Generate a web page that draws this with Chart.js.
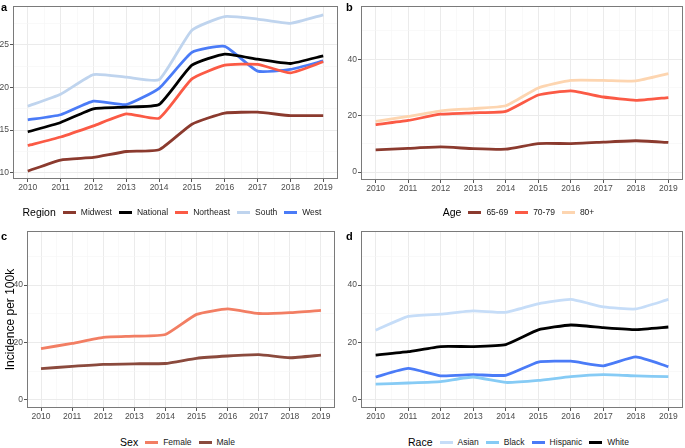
<!DOCTYPE html>
<html>
<head>
<meta charset="utf-8">
<title>Incidence per 100k, 2010-2019</title>
<script src="https://cdn.jsdelivr.net/npm/chart.js@4.4.0/dist/chart.umd.min.js"></script>
<style>
  body { margin: 0; background: #fff; font-family: "Liberation Sans", Arial, sans-serif; }
  #wrap { position: relative; width: 685px; height: 448px; overflow: hidden; }
  canvas { position: absolute; }
  .tag { position: absolute; font-weight: bold; font-size: 11px; line-height: 11px; color: #000; }
  .legend { position: absolute; height: 14px; display: flex; align-items: center; justify-content: center;
    font-size: 8.5px; color: #1a1a1a; white-space: nowrap; }
  .legend .ttl { font-size: 10.5px; color: #000; margin-right: 7px; }
  .legend .key { width: 13px; height: 3px; margin-right: 5px; }
  .legend .lab { margin-right: 7px; }
</style>
</head>
<body>
<div id="wrap">
  <canvas id="chartA" width="340" height="200" style="left:0;top:0"></canvas>
  <canvas id="chartB" width="345" height="200" style="left:340px;top:0"></canvas>
  <canvas id="chartC" width="340" height="204" style="left:0;top:225px"></canvas>
  <canvas id="chartD" width="345" height="204" style="left:340px;top:225px"></canvas>

  <div class="tag" style="left:1px;top:2px">a</div>
  <div class="tag" style="left:346px;top:2px">b</div>
  <div class="tag" style="left:1px;top:231px">c</div>
  <div class="tag" style="left:346px;top:231px">d</div>

  <div class="legend" id="legendA" style="left:13px;width:325px;top:205px"></div>
  <div class="legend" id="legendB" style="left:361px;width:322px;top:205px"></div>
  <div class="legend" id="legendC" style="left:27px;width:308px;top:435px"></div>
  <div class="legend" id="legendD" style="left:361px;width:322px;top:435px"></div>
</div>

<script>
'use strict';

// *********** DATA ***********
let years = [2010, 2011, 2012, 2013, 2014, 2015, 2016, 2017, 2018, 2019];

// panel a - region
let regionNames = ['Midwest', 'National', 'Northeast', 'South', 'West'];
let midwest = [10.2, 11.5, 11.8, 12.5, 12.7, 15.7, 17.0, 17.1, 16.7, 16.7];
let national = [14.8, 15.9, 17.5, 17.7, 18.0, 22.6, 23.9, 23.3, 22.8, 23.7];
let northeast = [13.2, 14.2, 15.5, 16.9, 16.4, 21.0, 22.6, 22.7, 21.7, 23.0];
let south = [17.8, 19.2, 21.5, 21.2, 20.9, 26.7, 28.3, 28.0, 27.5, 28.5];
let west = [16.2, 16.8, 18.4, 18.0, 19.9, 24.1, 24.8, 21.9, 22.1, 23.1];

// panel b - age
let ageNames = ['65-69', '70-79', '80+'];
let age6569 = [7.9, 8.4, 8.9, 8.3, 8.1, 10.1, 10.1, 10.6, 11.1, 10.5];
let age7079 = [16.8, 18.3, 20.5, 21.0, 21.5, 27.3, 28.8, 26.6, 25.4, 26.4];
let age80 = [18.0, 19.7, 21.7, 22.5, 23.5, 29.8, 32.5, 32.5, 32.3, 34.9];

// panel c - sex
let sexNames = ['Female', 'Male'];
let female = [17.9, 19.7, 21.8, 22.2, 22.8, 29.8, 31.7, 30.1, 30.4, 31.2];
let male = [10.9, 11.7, 12.4, 12.6, 12.7, 14.5, 15.3, 15.8, 14.7, 15.6];

// panel d - race
let raceNames = ['Asian', 'Black', 'Hispanic', 'White'];
let asian = [24.3, 29.1, 29.9, 31.0, 30.5, 33.5, 35.0, 32.4, 31.7, 35.0];
let black = [5.5, 5.9, 6.4, 8.0, 6.1, 6.8, 8.1, 8.8, 8.4, 8.1];
let hispanic = [8.0, 11.0, 8.4, 8.8, 8.6, 13.2, 13.5, 11.9, 15.0, 11.6];
let white = [15.6, 16.8, 18.6, 18.6, 19.3, 24.4, 26.1, 25.2, 24.5, 25.4];

// tick labels
let regionTicks = [10, 15, 20, 25];
let groupTicks = [0, 20, 40];

// ********* COLOURS *******************
let regionColors = ['#8b3a2e', '#000000', '#fb5a45', '#bfd4ee', '#4a7bf7'];
let ageColors = ['#8b3a2e', '#fb5a45', '#fdd5b0'];
let sexColors = ['#f27e63', '#8b4a3d'];
let raceColors = ['#c6ddf8', '#86cbf5', '#4a7bf7', '#000000'];

Chart.defaults.font.family = '"Liberation Sans", Arial, sans-serif';
Chart.defaults.animation = false;

// ********** HELPER FUNCTIONS *************

// grey box round the panel, drawn over the lines like ggplot does
let panelBorder = {
  id: 'panelBorder',
  afterDatasetsDraw(chart) {
    let a = chart.chartArea;
    let c = chart.ctx;
    c.save();
    c.strokeStyle = '#7a7a7a';
    c.lineWidth = 1;
    c.strokeRect(Math.round(a.left) + 0.5, Math.round(a.top) + 0.5,
      Math.round(a.right - a.left) - 1, Math.round(a.bottom - a.top) - 1);
    c.restore();
  }
};

function withMinors(majors, lo, hi) {
  let out = [];
  let step = majors[1] - majors[0];
  for (let v = majors[0] - step / 2; v <= majors[majors.length - 1] + step; v += step / 2) {
    if (v >= lo && v <= hi) out.push(v);
  }
  return out;
}

function isMajor(v, majors) {
  return majors.some(m => Math.abs(m - v) < 1e-6);
}

function makeDatasets(names, seriesList, colors) {
  let sets = [];
  for (let i = 0; i < names.length; i++) {
    sets.push({
      label: names[i],
      data: years.map((y, j) => ({ x: y, y: seriesList[i][j] })),
      borderColor: colors[i],
      backgroundColor: colors[i],
      borderWidth: 2.8,
      pointRadius: 0,
      tension: 0.15,
      borderJoinStyle: 'round'
    });
  }
  return sets;
}

function renderLegend(id, title, names, colors) {
  let box = document.getElementById(id);
  let t = document.createElement('span');
  t.className = 'ttl';
  t.textContent = title;
  box.appendChild(t);
  for (let i = 0; i < names.length; i++) {
    let k = document.createElement('span');
    k.className = 'key';
    k.style.background = colors[i];
    box.appendChild(k);
    let l = document.createElement('span');
    l.className = 'lab';
    l.textContent = names[i];
    box.appendChild(l);
  }
}

function renderPanel(canvasId, datasets, opts) {
  let xMajors = years;
  let xMin = 2009.55;
  let xMax = 2019.45;
  let yMajors = opts.yTicks;

  let chartObj = {
    type: 'line',
    data: { datasets: datasets },
    options: {
      responsive: false,
      layout: { padding: opts.padding },
      plugins: { legend: { display: false }, tooltip: { enabled: false } },
      scales: {
        x: {
          type: 'linear',
          min: xMin,
          max: xMax,
          afterBuildTicks: s => { s.ticks = withMinors(xMajors, xMin, xMax).map(v => ({ value: v })); },
          afterFit: s => { s.height = opts.xHeight; },
          border: { display: false },
          grid: {
            color: c => isMajor(c.tick.value, xMajors) ? '#ebebeb' : '#f5f5f5',
            lineWidth: c => isMajor(c.tick.value, xMajors) ? 1 : 0.6,
            tickColor: c => isMajor(c.tick.value, xMajors) ? '#555' : 'rgba(0,0,0,0)',
            tickLength: 3
          },
          ticks: {
            autoSkip: false,
            maxRotation: 0,
            padding: 1,
            color: '#4d4d4d',
            font: { size: 8.5 },
            callback: v => isMajor(v, xMajors) ? String(v) : ''
          }
        },
        y: {
          min: opts.yMin,
          max: opts.yMax,
          afterBuildTicks: s => { s.ticks = withMinors(yMajors, opts.yMin, opts.yMax).map(v => ({ value: v })); },
          afterFit: s => { s.width = opts.yWidth; },
          border: { display: false },
          grid: {
            color: c => isMajor(c.tick.value, yMajors) ? '#ebebeb' : '#f5f5f5',
            lineWidth: c => isMajor(c.tick.value, yMajors) ? 1 : 0.6,
            tickColor: c => isMajor(c.tick.value, yMajors) ? '#555' : 'rgba(0,0,0,0)',
            tickLength: 3
          },
          ticks: {
            padding: 1,
            color: '#4d4d4d',
            font: { size: 8.5 },
            callback: v => isMajor(v, yMajors) ? String(v) : ''
          },
          title: opts.yTitle ? {
            display: true,
            text: opts.yTitle,
            color: '#000',
            font: { size: 12 },
            padding: { top: 3, bottom: 0 }
          } : { display: false }
        }
      }
    },
    plugins: [panelBorder]
  };

  return new Chart(document.getElementById(canvasId), chartObj);
}

// ********* DRAW *******************
renderPanel('chartA',
  makeDatasets(regionNames, [midwest, national, northeast, south, west], regionColors),
  { yTicks: regionTicks, yMin: 9.28, yMax: 29.52, yWidth: 13, xHeight: 21,
    padding: { left: 0, right: 2, top: 2, bottom: 0 } });

renderPanel('chartB',
  makeDatasets(ageNames, [age6569, age7079, age80], ageColors),
  { yTicks: groupTicks, yMin: -2.8, yMax: 58.8, yWidth: 21, xHeight: 20,
    padding: { left: 0, right: 2, top: 2, bottom: 0 } });

renderPanel('chartC',
  makeDatasets(sexNames, [female, male], sexColors),
  { yTicks: groupTicks, yMin: -2.8, yMax: 58.8, yWidth: 27, xHeight: 21,
    yTitle: 'Incidence per 100k',
    padding: { left: 0, right: 5, top: 6, bottom: 0 } });

renderPanel('chartD',
  makeDatasets(raceNames, [asian, black, hispanic, white], raceColors),
  { yTicks: groupTicks, yMin: -2.8, yMax: 58.8, yWidth: 21, xHeight: 21,
    padding: { left: 0, right: 2, top: 6, bottom: 0 } });

renderLegend('legendA', 'Region', regionNames, regionColors);
renderLegend('legendB', 'Age', ageNames, ageColors);
renderLegend('legendC', 'Sex', sexNames, sexColors);
renderLegend('legendD', 'Race', raceNames, raceColors);
</script>
</body>
</html>
